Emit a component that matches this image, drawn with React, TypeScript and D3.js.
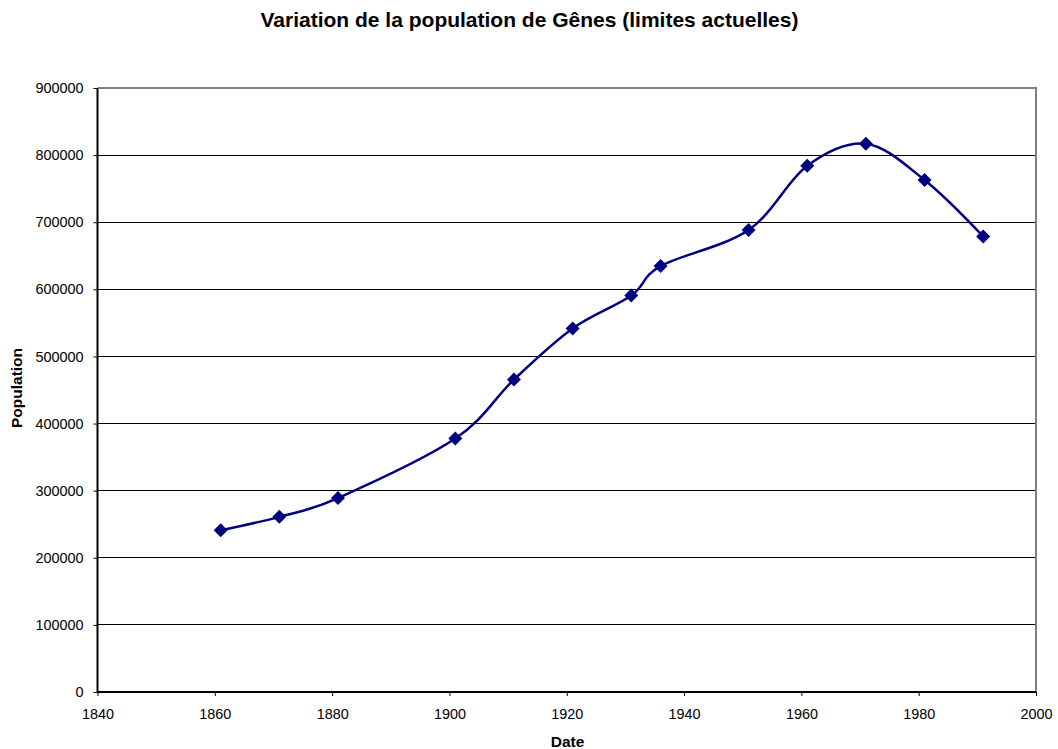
import { useEffect, useRef } from 'react';
import * as d3 from 'd3';

const years = [1861, 1871, 1881, 1901, 1911, 1921, 1931, 1936, 1951, 1961, 1971, 1981, 1991];
const population = [241000, 261000, 289000, 377600, 465500, 541600, 590700, 634600, 688400, 784200, 816900, 762900, 678800];
const xTicks = [1840, 1860, 1880, 1900, 1920, 1940, 1960, 1980, 2000];
const yTicks = [0, 100000, 200000, 300000, 400000, 500000, 600000, 700000, 800000, 900000];

export default function App() {
  const ref = useRef<SVGSVGElement>(null);

  useEffect(() => {
    const svg = d3.select(ref.current);
    svg.selectAll('*').remove();

    const margin = { top: 88, right: 22, bottom: 57, left: 97.5 };
    const W = 1058, H = 749;
    const width = W - margin.left - margin.right;
    const height = H - margin.top - margin.bottom;
    const font = 'Liberation Sans, Arial, sans-serif';

    const x = d3.scaleLinear().domain([1840, 2000]).range([0, width]);
    const y = d3.scaleLinear().domain([0, 900000]).range([height, 0]);

    const g = svg.append('g').attr('transform', `translate(${margin.left},${margin.top})`);

    // horizontal grid
    g.append('g')
      .selectAll('line')
      .data(yTicks.filter(d => d > 0 && d < 900000))
      .enter().append('line')
      .attr('x1', 0).attr('x2', width)
      .attr('y1', d => y(d)).attr('y2', d => y(d))
      .attr('stroke', '#000').attr('stroke-width', 1)
      .attr('shape-rendering', 'crispEdges');

    // gray frame top + right
    g.append('path')
      .attr('d', `M0,0H${width}V${height}`)
      .attr('fill', 'none').attr('stroke', '#808080').attr('stroke-width', 2);

    const yAxis = g.append('g')
      .call(d3.axisLeft(y).tickValues(yTicks).tickSize(4).tickPadding(10).tickFormat(d3.format('d')));
    const xAxis = g.append('g')
      .attr('transform', `translate(0,${height})`)
      .call(d3.axisBottom(x).tickValues(xTicks).tickSize(4).tickPadding(13).tickFormat(d3.format('d')));

    [yAxis, xAxis].forEach(a => {
      a.select('.domain').attr('stroke', '#000').attr('stroke-width', 2);
      a.selectAll('.tick line').attr('stroke', '#000');
      a.selectAll('text').attr('font-family', font).attr('font-size', 14.4).attr('fill', '#000');
    });
    yAxis.select('.domain').attr('d', `M0,0V${height}`);
    xAxis.select('.domain').attr('d', `M0,0H${width}`);

    const pts = years.map((yr, i) => [yr, population[i]] as [number, number]);

    const line = d3.line<[number, number]>()
      .x(d => x(d[0]))
      .y(d => y(d[1]))
      .curve(d3.curveCatmullRom.alpha(0));

    g.append('path')
      .datum(pts)
      .attr('d', line)
      .attr('fill', 'none')
      .attr('stroke', '#000080')
      .attr('stroke-width', 2.5);

    const diamond = d3.symbol().type(d3.symbolDiamond2).size(125);
    g.append('g')
      .selectAll('path')
      .data(pts)
      .enter().append('path')
      .attr('transform', d => `translate(${x(d[0])},${y(d[1])})`)
      .attr('d', diamond)
      .attr('fill', '#000080');

    // titles
    svg.append('text')
      .attr('x', 529.5).attr('y', 27)
      .attr('text-anchor', 'middle')
      .attr('font-family', font).attr('font-size', 21).attr('font-weight', 'bold')
      .text('Variation de la population de Gênes (limites actuelles)');

    svg.append('text')
      .attr('transform', `translate(22,388) rotate(-90)`)
      .attr('text-anchor', 'middle')
      .attr('font-family', font).attr('font-size', 15.5).attr('font-weight', 'bold')
      .text('Population');

    svg.append('text')
      .attr('x', 567.5).attr('y', 747)
      .attr('text-anchor', 'middle')
      .attr('font-family', font).attr('font-size', 15.5).attr('font-weight', 'bold')
      .text('Date');
  }, []);

  return (
    <svg ref={ref} width={1058} height={749}
      style={{ position: 'absolute', left: 0, top: 0, background: '#fff' }} />
  );
}
